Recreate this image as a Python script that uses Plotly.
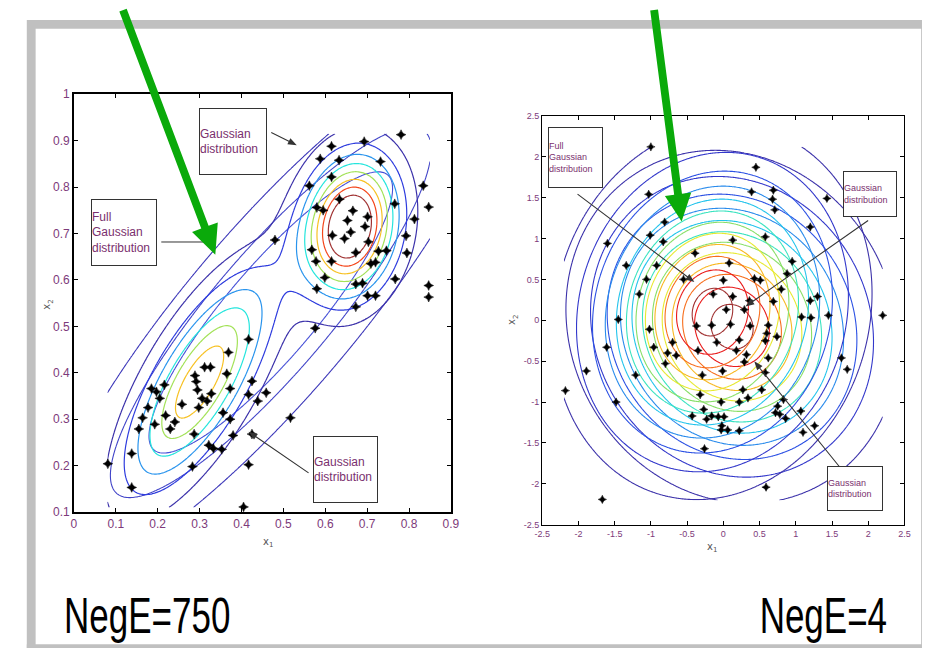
import numpy as np
import plotly.graph_objects as go

W, H = 930, 649

# ---------------- data ----------------
left_x1 = [0.781, 0.615, 0.693, 0.588, 0.633, 0.732, 0.615, 0.562, 0.834, 0.634, 0.766, 0.847,
           0.580, 0.595, 0.666, 0.701, 0.653, 0.813, 0.695, 0.661, 0.617, 0.793, 0.646, 0.703,
           0.480, 0.568, 0.673, 0.746, 0.727, 0.795, 0.578, 0.615, 0.720, 0.709, 0.599, 0.767,
           0.673, 0.689, 0.847, 0.847, 0.580, 0.701, 0.720, 0.673, 0.576,
           0.417, 0.369, 0.312, 0.326, 0.365, 0.289, 0.292, 0.425, 0.373, 0.295, 0.185, 0.216,
           0.197, 0.205, 0.328, 0.459, 0.306, 0.318, 0.417, 0.439, 0.258, 0.177, 0.298, 0.356,
           0.219, 0.164, 0.373, 0.241, 0.193, 0.155, 0.230, 0.287, 0.380, 0.425, 0.322, 0.333,
           0.353, 0.138, 0.283, 0.417, 0.081, 0.138, 0.517, 0.405]
left_x2 = [0.913, 0.888, 0.898, 0.861, 0.858, 0.855, 0.822, 0.803, 0.803, 0.774, 0.764, 0.757,
           0.756, 0.750, 0.749, 0.736, 0.728, 0.731, 0.715, 0.703, 0.696, 0.695, 0.689, 0.682,
           0.686, 0.665, 0.659, 0.663, 0.662, 0.658, 0.640, 0.640, 0.638, 0.635, 0.605, 0.602,
           0.591, 0.593, 0.588, 0.563, 0.581, 0.566, 0.566, 0.542, 0.496,
           0.472, 0.444, 0.412, 0.412, 0.398, 0.394, 0.381, 0.382, 0.366, 0.363, 0.366, 0.374,
           0.359, 0.345, 0.355, 0.357, 0.345, 0.339, 0.353, 0.339, 0.332, 0.325, 0.325, 0.314,
           0.308, 0.303, 0.300, 0.294, 0.289, 0.279, 0.279, 0.268, 0.265, 0.268, 0.244, 0.237,
           0.235, 0.226, 0.198, 0.202, 0.204, 0.153, 0.303, 0.111]

right_x1 = [-1.00, 0.45, -1.03, 0.39, 0.69, 0.68, 0.71, 1.43, -0.81, 1.20, -1.01, 0.58, -0.83,
            0.13, -1.60, -0.39, -0.92, -1.34, 0.08, 0.95, 0.88, -1.06, -0.55, 0.00, 0.43, 0.51,
            0.80, -1.16, -0.14, 0.13, 1.30, 1.20, 0.69, 0.36, 0.04, 0.29, -1.45, 1.08, 1.21,
            1.45, 2.20, -1.02, -0.37, -0.16, 0.10, 0.37, 0.62, 0.60, 0.58, 0.74, -0.09, 0.22,
            -0.70, -1.61, -0.96, -0.77, -0.65, -0.35, 0.18, 0.32, 0.62, -0.80, 1.63, 0.29,
            -0.01, 1.71, -1.89, -0.29, -1.21, 0.58, 0.53, 0.27, -2.18, -0.32, 0.34, -0.03,
            0.83, 0.75, 0.22, -1.48, 1.07, -0.27, 0.72, 0.78, 0.86, -0.43, -0.23, -0.16, -0.07,
            0.01, 1.26, -0.02, -0.03, 0.06, 0.22, 1.10, -0.26, 0.59, -1.67]
right_x2 = [2.12, 1.87, 1.54, 1.57, 1.59, 1.48, 1.35, 1.49, 1.20, 1.14, 1.04, 1.02, 0.96,
            0.98, 0.94, 0.82, 0.67, 0.67, 0.70, 0.72, 0.57, 0.50, 0.50, 0.49, 0.51, 0.49,
            0.38, 0.32, 0.32, 0.29, 0.29, 0.24, 0.23, 0.24, 0.13, 0.13, 0.01, 0.04, 0.03,
            0.06, 0.06, -0.11, -0.07, -0.06, -0.05, -0.07, -0.06, -0.16, -0.25, -0.20, -0.27,
            -0.24, -0.27, -0.33, -0.33, -0.40, -0.43, -0.37, -0.37, -0.42, -0.46, -0.53, -0.46,
            -0.51, -0.62, -0.60, -0.62, -0.67, -0.67, -0.64, -0.85, -0.85, -0.86, -0.91, -0.95,
            -1.00, -0.97, -1.05, -1.00, -1.00, -1.11, -1.09, -1.13, -1.15, -1.20, -1.17, -1.21,
            -1.17, -1.18, -1.18, -1.29, -1.29, -1.34, -1.34, -1.35, -1.37, -1.57, -2.04, -2.19]

# Gaussian models whose density contours are drawn
left_mix_means = [[0.30, 0.38], [0.66, 0.715]]
left_mix_sds = [[0.115, 0.155], [0.075, 0.10]]
left_mix_rhos = [0.72, 0.15]
left_mix_peaks = [0.68, 1.0]
left_full_mean = [0.47, 0.53]
left_full_sd = [0.24, 0.25]
left_full_rho = 0.88

right_full_mean = [-0.15, 0.10]
right_full_sd = [0.98, 1.02]
right_full_rho = 0.10
right_comp_mean = [0.12, -0.08]
right_comp_sd = [1.02, 0.96]
right_comp_rho = -0.10

left_xticks = [0, 0.1, 0.2, 0.3, 0.4, 0.5, 0.6, 0.7, 0.8, 0.9]
left_xtick_text = ["0", "0.1", "0.2", "0.3", "0.4", "0.5", "0.6", "0.7", "0.8", "0.9"]
left_yticks = [0.1, 0.2, 0.3, 0.4, 0.5, 0.6, 0.7, 0.8, 0.9, 1.0]
left_ytick_text = ["0.1", "0.2", "0.3", "0.4", "0.5", "0.6", "0.7", "0.8", "0.9", "1"]
right_ticks = [-2.5, -2, -1.5, -1, -0.5, 0, 0.5, 1, 1.5, 2, 2.5]
right_tick_text = ["-2.5", "-2", "-1.5", "-1", "-0.5", "0", "0.5", "1", "1.5", "2", "2.5"]

JET = [[0.0, "rgb(60,50,170)"], [0.15, "rgb(45,60,225)"], [0.32, "rgb(40,170,240)"],
       [0.42, "rgb(30,230,230)"], [0.52, "rgb(110,220,120)"], [0.65, "rgb(245,235,40)"],
       [0.78, "rgb(250,150,30)"], [0.9, "rgb(240,25,25)"], [1.0, "rgb(160,50,50)"]]
SANS = "Liberation Sans, Arial, sans-serif"


def gauss(X, Y, mean, sd, rho):
    dx = (X - mean[0]) / sd[0]
    dy = (Y - mean[1]) / sd[1]
    m = (dx * dx - 2 * rho * dx * dy + dy * dy) / (1 - rho * rho)
    return np.exp(-0.5 * m)


def px(x):
    return x / W


def py(y):
    return 1 - y / H


fig = go.Figure()

# ---- left contours ----
lgx = np.linspace(0.08, 0.85, 240)
lgy = np.linspace(0.11, 0.915, 240)
LX, LY = np.meshgrid(lgx, lgy)
Zmix = sum(p * gauss(LX, LY, m, s, r) for m, s, r, p in
           zip(left_mix_means, left_mix_sds, left_mix_rhos, left_mix_peaks))
Zfull = gauss(LX, LY, left_full_mean, left_full_sd, left_full_rho)

fig.add_trace(go.Contour(x=lgx, y=lgy, z=Zfull, xaxis="x", yaxis="y", autocontour=False,
                         contours=dict(coloring="lines", start=0.08, end=0.5, size=0.2),
                         colorscale=[[0, "rgb(60,55,185)"], [1, "rgb(70,80,215)"]],
                         line=dict(width=1.1), showscale=False, hoverinfo="skip"))
fig.add_trace(go.Contour(x=lgx, y=lgy, z=Zmix, xaxis="x", yaxis="y", autocontour=False,
                         contours=dict(coloring="lines", start=0.1, end=0.8, size=0.1),
                         colorscale=JET, zmin=0, zmax=0.9, zauto=False,
                         line=dict(width=1.2), showscale=False, hoverinfo="skip"))

# ---- right contours ----
rgx = np.linspace(-2.2, 2.2, 240)
rgy = np.linspace(-2.2, 2.12, 240)
RX, RY = np.meshgrid(rgx, rgy)
ZA = gauss(RX, RY, right_full_mean, right_full_sd, right_full_rho)
ZB = gauss(RX, RY, right_comp_mean, right_comp_sd, right_comp_rho)
for Z in (ZB, ZA):
    fig.add_trace(go.Contour(x=rgx, y=rgy, z=Z, xaxis="x2", yaxis="y2", autocontour=False,
                             contours=dict(coloring="lines", start=0.08, end=0.96, size=0.08),
                             colorscale=JET, zmin=0, zmax=1.0, zauto=False,
                             line=dict(width=1.1), showscale=False, hoverinfo="skip"))

# ---- points ----
mk = dict(symbol="star-diamond", size=7, color="black", line=dict(width=0.5, color="black"))
fig.add_trace(go.Scatter(x=left_x1, y=left_x2, mode="markers", marker=mk,
                         xaxis="x", yaxis="y", hoverinfo="skip"))
fig.add_trace(go.Scatter(x=right_x1, y=right_x2, mode="markers", marker=dict(mk, size=6),
                         xaxis="x2", yaxis="y2", hoverinfo="skip"))

tickfont_l = dict(family=SANS, size=12, color="#7d3a7a")
tickfont_r = dict(family=SANS, size=9, color="#7d3a7a")
ax_common = dict(showgrid=False, zeroline=False, showline=True, mirror="ticks", linecolor="black",
                 linewidth=1.5, ticks="inside", ticklen=4, tickcolor="black", tickmode="array")

fig.update_layout(
    width=W, height=H, margin=dict(l=0, r=0, t=0, b=0),
    paper_bgcolor="white", plot_bgcolor="white", showlegend=False,
    xaxis=dict(ax_common, domain=[59 / W, 443 / W], range=[0, 0.9], anchor="y",
               tickvals=left_xticks, ticktext=left_xtick_text, tickfont=tickfont_l),
    yaxis=dict(ax_common, domain=[py(508), py(81)], range=[0.1, 1.0], anchor="x",
               tickvals=left_yticks, ticktext=left_ytick_text, tickfont=tickfont_l),
    xaxis2=dict(ax_common, domain=[536 / W, 905 / W], range=[-2.5, 2.5], anchor="y2",
                tickvals=right_ticks, ticktext=right_tick_text, tickfont=tickfont_r, linewidth=1.2),
    yaxis2=dict(ax_common, domain=[py(521), py(103)], range=[-2.5, 2.5], anchor="x2",
                tickvals=right_ticks, ticktext=right_tick_text, tickfont=tickfont_r, linewidth=1.2),
)


# ---- decorations ----
def arrow_path(x0, y0, x1, y1, sw, hl, hw):
    s = np.array([x0, y0], float)
    t = np.array([x1, y1], float)
    u = (t - s) / np.linalg.norm(t - s)
    n = np.array([-u[1], u[0]])
    b = t - hl * u
    pts = [s + n * sw / 2, b + n * sw / 2, b + n * hw / 2, t, b - n * hw / 2, b - n * sw / 2, s - n * sw / 2]
    return "M " + " L ".join(f"{px(p[0]):.5f},{py(p[1]):.5f}" for p in pts) + " Z"


gray = "rgb(192,192,192)"
shapes = [
    dict(type="rect", xref="paper", yref="paper", x0=px(12), x1=px(929), y0=py(5), y1=py(14),
         fillcolor=gray, line=dict(width=0), layer="below"),
    dict(type="rect", xref="paper", yref="paper", x0=px(11), x1=px(20), y0=py(5), y1=py(647),
         fillcolor=gray, line=dict(width=0), layer="below"),
    dict(type="rect", xref="paper", yref="paper", x0=px(922), x1=px(929), y0=py(5), y1=py(647),
         fillcolor=gray, line=dict(width=0), layer="below"),
    dict(type="rect", xref="paper", yref="paper", x0=px(11), x1=px(929), y0=py(643), y1=py(647),
         fillcolor=gray, line=dict(width=0), layer="below"),
]


def pointer(tx, ty, hx, hy, head=True):
    if head:
        shapes.append(dict(type="path", xref="paper", yref="paper",
                           path=arrow_path(tx, ty, hx, hy, 1.1, 9, 7),
                           fillcolor="#333", line=dict(width=0), layer="above"))
    else:
        shapes.append(dict(type="line", xref="paper", yref="paper", x0=px(tx), y0=py(ty),
                           x1=px(hx), y1=py(hy), line=dict(color="#333", width=1), layer="above"))


lab_col = "#7a2f6e"
lab_font = dict(family=SANS, size=12, color=lab_col)
lab_font_s = dict(family=SANS, size=9, color=lab_col)
ann = []


def box(x0, y0, x1, y1, text, font):
    ann.append(dict(xref="paper", yref="paper", x=px((x0 + x1) / 2), y=py((y0 + y1) / 2),
                    xanchor="center", yanchor="middle", text=text, showarrow=False, align="left",
                    width=x1 - x0 - 2, height=y1 - y0 - 2, bgcolor="white", bordercolor="#333",
                    borderwidth=1, borderpad=0, font=font))


box(187, 96, 255, 163, "Gaussian<br>distribution", lab_font)
pointer(260, 120, 286, 133)
box(77, 189, 143, 256, "Full<br>Gaussian<br>distribution", lab_font)
pointer(148, 232, 196, 232, head=False)
box(303, 431, 368, 498, "Gaussian<br>distribution", lab_font)
pointer(298, 468, 237, 426)

box(542, 115, 597, 176, "Full<br>Gaussian<br>distribution", lab_font_s)
pointer(572, 183, 691, 273)
box(843, 160, 897, 206, "Gaussian<br>distribution", lab_font_s)
pointer(868, 210, 743, 298)
box(827, 461, 883, 506, "Gaussian<br>distribution", lab_font_s)
pointer(839, 462, 752, 354)

shapes.append(dict(type="path", xref="paper", yref="paper", path=arrow_path(109, -5, 203, 245, 8, 30, 28),
                   fillcolor="rgb(10,170,10)", line=dict(width=0), layer="above"))
shapes.append(dict(type="path", xref="paper", yref="paper", path=arrow_path(650, -5, 678, 211, 8, 28, 27),
                   fillcolor="rgb(10,170,10)", line=dict(width=0), layer="above"))
fig.update_layout(shapes=shapes)

tfont = dict(family="DejaVu Sans, sans-serif", size=10, color="#555")
big = dict(family=SANS, size=50, color="black")
ann += [
    dict(xref="paper", yref="paper", x=px(250), y=py(548), text="x<sub>1</sub>", showarrow=False, font=tfont),
    dict(xref="paper", yref="paper", x=px(716), y=py(553), text="x<sub>1</sub>", showarrow=False, font=tfont),
    dict(xref="paper", yref="paper", x=px(24), y=py(296), text="x<sub>2</sub>", showarrow=False,
         font=tfont, textangle=-90),
    dict(xref="paper", yref="paper", x=px(506), y=py(312), text="x<sub>2</sub>", showarrow=False,
         font=tfont, textangle=-90),
    dict(xref="paper", yref="paper", x=px(47), y=py(614), xanchor="left", yanchor="middle",
         text="NegE=750", showarrow=False, font=big),
    dict(xref="paper", yref="paper", x=px(889), y=py(614), xanchor="right", yanchor="middle",
         text="NegE=4", showarrow=False, font=big),
]
fig.update_layout(annotations=ann)

# the big labels in the picture use a narrow face: squeeze them horizontally
narrow_js = """
var gd = document.getElementById('{plot_id}');
gd.querySelectorAll('g.annotation text').forEach(function(t){
  var s = t.textContent;
  if (s.indexOf('NegE') === 0) {
    var b = t.getBBox();
    var ax = (s === 'NegE=4') ? b.x + b.width : b.x;
    t.setAttribute('transform', 'translate(' + ax + ',0) scale(0.7,1) translate(' + (-ax) + ',0)');
  }
});
"""

fig.write_html("out.html", post_script=narrow_js)
